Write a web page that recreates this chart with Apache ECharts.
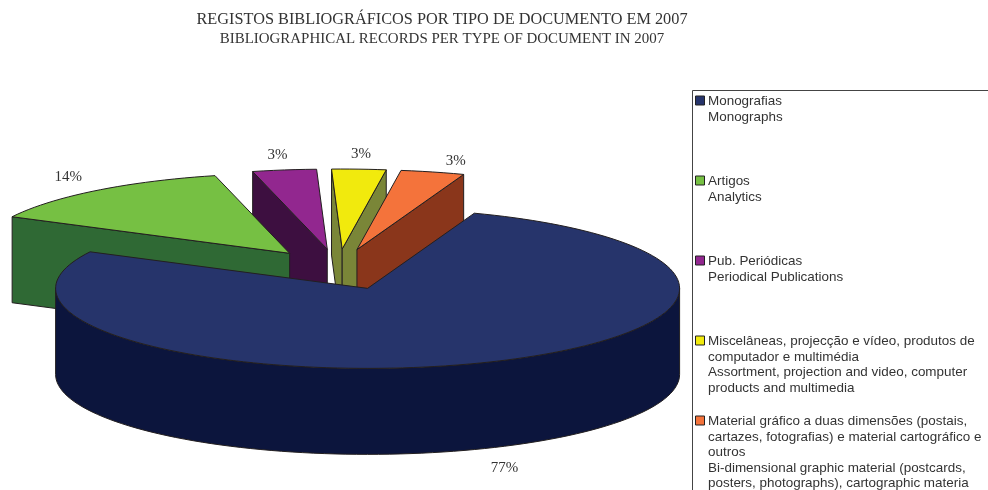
<!DOCTYPE html>
<html>
<head>
<meta charset="utf-8">
<style>html,body{margin:0;padding:0;background:#fff}#c{width:988px;height:490px}</style>
<script src="https://cdn.jsdelivr.net/npm/echarts@6/dist/echarts.min.js"></script>
</head>
<body>
<div id="c"></div>
<script>
var titlePt = 'REGISTOS BIBLIOGRÁFICOS POR TIPO DE DOCUMENTO EM 2007';
var titleEn = 'BIBLIOGRAPHICAL RECORDS PER TYPE OF DOCUMENT IN 2007';
var categories = [
  'Monografias\nMonographs',
  'Artigos\nAnalytics',
  'Pub. Periódicas\nPeriodical Publications',
  'Miscelâneas, projecção e vídeo, produtos de\ncomputador e multimédia\nAssortment, projection and video, computer\nproducts and multimedia',
  'Material gráfico a duas dimensões (postais,\ncartazes, fotografias) e material cartográfico e\noutros\nBi-dimensional graphic material (postcards,\nposters, photographs), cartographic materia'
];
// The printed labels are these values rounded.
var values = [77, 13.6, 3.3, 2.8, 3.3];

var topColors  = ['#26346B', '#76C043', '#92278F', '#F1EA0D', '#F4733B'];
var sideColors = ['#0C153D', '#2F6934', '#3D0F40', '#7A8638', '#8A361B'];
var labelNudge = [[23, 19], [-28, -13], [-7, -15], [2, -15], [23, -11]];
var explode = [0.26, 0.25, 0.25, 0.25, 0.25];

var CX = 338, CY = 269, RX = 312, RY = 80, DEPTH = 86, START = 20;
var EDGE = '#231F20', TEXT = '#333333';
var total = values.reduce(function (a, b) { return a + b; }, 0);
var RAD = Math.PI / 180;

var spans = [];
(function () {
  var a = START;
  values.forEach(function (v) {
    var b = a + v / total * 360;
    spans.push([a, b]);
    a = b;
  });
})();

function pt(c, deg, dz) {
  return [c[0] + RX * Math.sin(deg * RAD), c[1] - RY * Math.cos(deg * RAD) + (dz || 0)];
}
function arc(c, a, b, dz) {
  var n = Math.max(2, Math.ceil(Math.abs(b - a) / 2)), out = [];
  for (var i = 0; i <= n; i++) out.push(pt(c, a + (b - a) * i / n, dz));
  return out;
}
function apexOf(i) {
  var mid = (spans[i][0] + spans[i][1]) / 2;
  return [CX + RX * explode[i] * Math.sin(mid * RAD), CY - RY * explode[i] * Math.cos(mid * RAD)];
}

// Painter's order: rear wedges first.
var order = values.map(function (_, i) { return i; }).sort(function (p, q) {
  return apexOf(p)[1] - apexOf(q)[1];
});

function face(points, color) {
  return {
    type: 'polygon',
    shape: { points: points },
    style: { fill: color, stroke: EDGE, lineWidth: 1, lineJoin: 'round' }
  };
}

function renderSlice(params, api) {
  var i = order[params.dataIndex];
  var value = api.value(0);
  var a = spans[i][0], b = spans[i][1], mid = (a + b) / 2;
  var c = apexOf(i), kids = [];
  var bottom = [c[0], c[1] + DEPTH];

  function cut(deg) {
    var p = pt(c, deg), q = pt(c, deg, DEPTH);
    kids.push(face([c, p, q, bottom], sideColors[i]));
  }
  if (Math.sin(a * RAD) < 0) cut(a);
  if (Math.sin(b * RAD) > 0) cut(b);

  var fromFront = Math.max(a, 90), toFront = Math.min(b, 270);
  if (toFront > fromFront) {
    kids.push(face(arc(c, fromFront, toFront).concat(arc(c, toFront, fromFront, DEPTH)), sideColors[i]));
  }
  kids.push(face([c].concat(arc(c, a, b)), topColors[i]));

  var rim = pt(c, mid, Math.cos(mid * RAD) < 0 ? DEPTH : 0);
  kids.push({
    type: 'text',
    z2: 50,
    style: {
      x: rim[0] + labelNudge[i][0], y: rim[1] + labelNudge[i][1],
      text: Math.round(value) + '%', fill: TEXT, align: 'center', verticalAlign: 'middle',
      font: '15px "Liberation Serif"'
    }
  });
  return { type: 'group', children: kids };
}

var legendEls = [{
  type: 'polyline',
  shape: { points: [[692.5, 490], [692.5, 90.5], [988, 90.5]] },
  style: { stroke: '#444444', lineWidth: 1, fill: null }
}];
var LEG_TOP = 96, LEG_STEP = 80;
categories.forEach(function (name, i) {
  var y = LEG_TOP + i * LEG_STEP;
  legendEls.push({
    type: 'rect',
    shape: { x: 695.5, y: y, width: 9, height: 9 },
    style: { fill: topColors[i], stroke: '#222222', lineWidth: 1 }
  });
  legendEls.push({
    type: 'text',
    style: {
      x: 708, y: y - 2, text: name, fill: TEXT,
      font: '13.45px "Liberation Sans"', lineHeight: 15.5,
      align: 'left', verticalAlign: 'top'
    }
  });
});

var chart = echarts.init(document.getElementById('c'), null, { renderer: 'canvas' });
chart.setOption({
  animation: false,
  backgroundColor: '#ffffff',
  title: {
    text: titlePt,
    subtext: titleEn,
    left: 437,
    top: 7,
    textAlign: 'center',
    itemGap: 4,
    textStyle: { fontFamily: 'Liberation Serif', fontWeight: 'normal', fontSize: 16.3, color: TEXT },
    subtextStyle: { fontFamily: 'Liberation Serif', fontSize: 14.95, color: TEXT }
  },
  graphic: { elements: legendEls },
  series: [{
    type: 'custom',
    coordinateSystem: 'none',
    silent: true,
    renderItem: renderSlice,
    data: order.map(function (i) { return { name: categories[i], value: [values[i]] }; })
  }]
});
</script>
</body>
</html>
